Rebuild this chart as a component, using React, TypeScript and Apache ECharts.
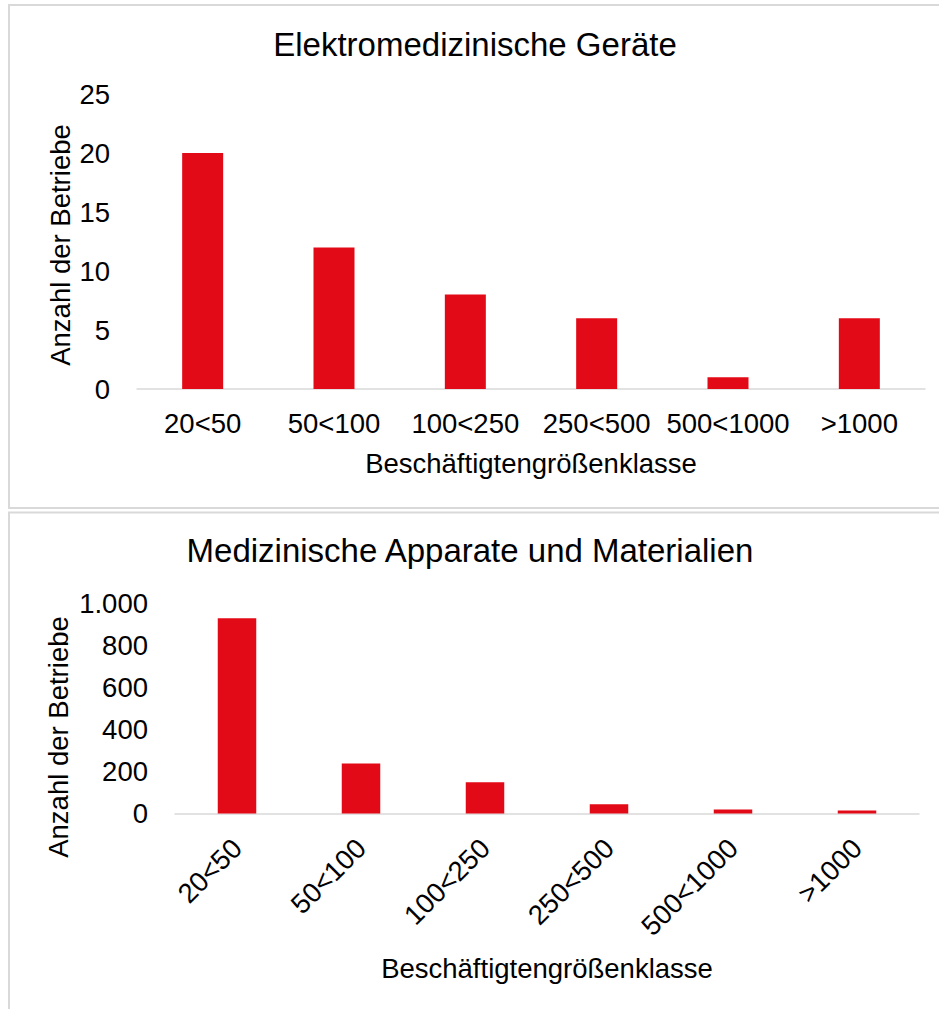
import React, { useEffect, useRef } from "react";
import * as echarts from "echarts";

const categories = ["20<50", "50<100", "100<250", "250<500", "500<1000", ">1000"];
const elektroValues = [20, 12, 8, 6, 1, 6];
const apparateValues = [927, 238, 148, 44, 19, 14];
const title1 = "Elektromedizinische Geräte";
const title2 = "Medizinische Apparate und Materialien";
const xName = "Beschäftigtengrößenklasse";
const yName = "Anzahl der Betriebe";

const FONT = "'Liberation Sans', Arial, sans-serif";
const RED = "#E30A17";
const GREY = "#D9D9D9";

const fmtDe = (v: number) => String(v).replace(/\B(?=(\d{3})+(?!\d))/g, ".");

export default function App() {
  const ref = useRef<HTMLDivElement>(null);
  useEffect(() => {
    if (!ref.current) return;
    const chart = echarts.init(ref.current, undefined, { renderer: "svg" });
    const labelStyle = { color: "#000", fontSize: 27.5, fontFamily: FONT };
    chart.setOption({
      animation: false,
      backgroundColor: "#fff",
      graphic: [
        {
          type: "rect",
          z: -10,
          shape: { x: 9, y: 5, width: 960, height: 503 },
          style: { fill: "#fff", stroke: GREY, lineWidth: 2 },
        },
        {
          type: "rect",
          z: -10,
          shape: { x: 9, y: 512.5, width: 960, height: 600 },
          style: { fill: "#fff", stroke: GREY, lineWidth: 2 },
        },
        {
          type: "text",
          x: 475,
          y: 44,
          style: { text: title1, fontSize: 33, fontFamily: FONT, fill: "#000", align: "center", verticalAlign: "middle" },
        },
        {
          type: "text",
          x: 470,
          y: 550,
          style: { text: title2, fontSize: 33, fontFamily: FONT, fill: "#000", align: "center", verticalAlign: "middle" },
        },
        {
          type: "text",
          x: 60,
          y: 245,
          rotation: Math.PI / 2,
          style: { text: yName, fontSize: 27.5, fontFamily: FONT, fill: "#000", align: "center", verticalAlign: "middle" },
        },
        {
          type: "text",
          x: 58,
          y: 737,
          rotation: Math.PI / 2,
          style: { text: yName, fontSize: 27.5, fontFamily: FONT, fill: "#000", align: "center", verticalAlign: "middle" },
        },
      ],
      grid: [
        { left: 137, right: 14, top: 94, bottom: 620 },
        { left: 175, right: 20, top: 603, bottom: 195.5 },
      ],
      xAxis: [
        {
          type: "category",
          gridIndex: 0,
          data: categories,
          axisLine: { lineStyle: { color: GREY, width: 1.5 } },
          axisTick: { show: false },
          axisLabel: { ...labelStyle, margin: 20, interval: 0 },
          name: xName,
          nameLocation: "middle",
          nameGap: 60,
          nameTextStyle: labelStyle,
        },
        {
          type: "category",
          gridIndex: 1,
          data: categories,
          axisLine: { lineStyle: { color: GREY, width: 1.5 } },
          axisTick: { show: false },
          axisLabel: { ...labelStyle, margin: 30, interval: 0, rotate: 45 },
          name: xName,
          nameLocation: "middle",
          nameGap: 141,
          nameTextStyle: labelStyle,
        },
      ],
      yAxis: [
        {
          type: "value",
          gridIndex: 0,
          min: 0,
          max: 25,
          interval: 5,
          axisLine: { show: false },
          axisTick: { show: false },
          splitLine: { show: false },
          axisLabel: { ...labelStyle, margin: 27 },
        },
        {
          type: "value",
          gridIndex: 1,
          min: 0,
          max: 1000,
          interval: 200,
          axisLine: { show: false },
          axisTick: { show: false },
          splitLine: { show: false },
          axisLabel: { ...labelStyle, margin: 27, formatter: (v: number) => fmtDe(v) },
        },
      ],
      series: [
        {
          type: "bar",
          xAxisIndex: 0,
          yAxisIndex: 0,
          data: elektroValues,
          barWidth: 41,
          itemStyle: { color: RED },
        },
        {
          type: "bar",
          xAxisIndex: 1,
          yAxisIndex: 1,
          data: apparateValues,
          barWidth: 38.5,
          itemStyle: { color: RED },
        },
      ],
    });
    return () => chart.dispose();
  }, []);
  return (
    <div
      ref={ref}
      style={{ position: "absolute", left: 0, top: 0, width: 939, height: 1009 }}
    />
  );
}
